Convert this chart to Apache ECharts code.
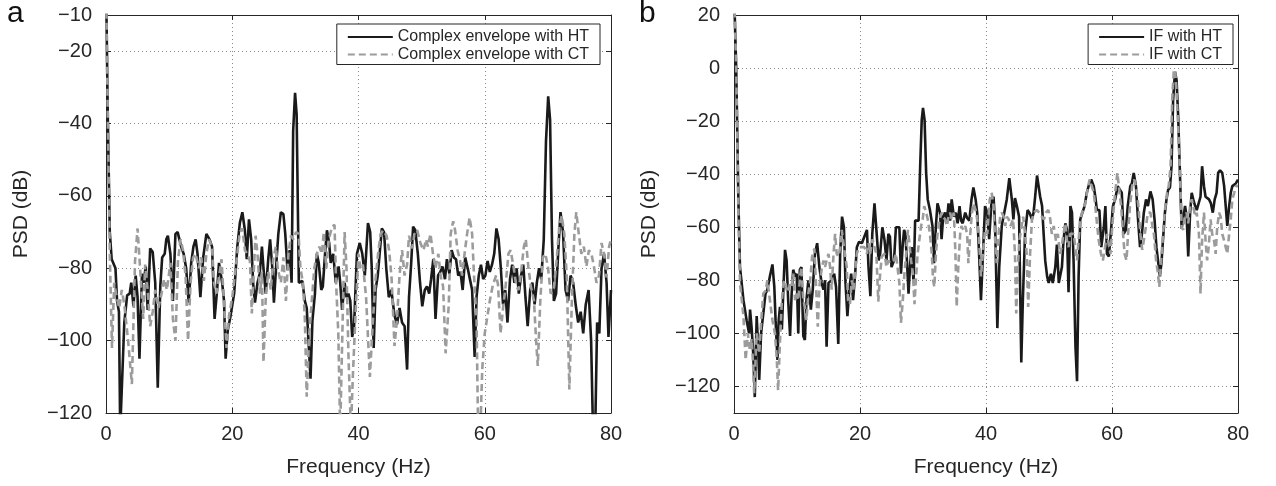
<!DOCTYPE html>
<html><head><meta charset="utf-8">
<script src="https://cdn.jsdelivr.net/npm/echarts@6/dist/echarts.min.js"></script>
<style>html,body{margin:0;padding:0;background:#fff}#c{width:1276px;height:486px}</style>
</head><body><div id="c"></div>
<script>
// ---- tick labels / categories ----
const xTicks = [0, 20, 40, 60, 80];
const yTicksA = [-120, -100, -80, -60, -40, -20, -10];
const yTicksB = [-120, -100, -80, -60, -40, -20, 0, 20];
const legendA = ['Complex envelope with HT', 'Complex envelope with CT'];
const legendB = ['IF with HT', 'IF with CT'];
const panelLetters = ['a', 'b'];

// ---- series values: [frequency Hz, PSD dB] ----
const htA = [[0,0],[0.3,-40],[0.6,-70],[0.9,-77.5],[1.2,-78],[1.5,-80],[1.75,-89],[2.05,-92],[2.25,-125],[2.55,-125],[2.9,-95],[3.35,-87.5],[3.75,-87],[4.0,-84],[4.35,-90.5],[4.7,-82],[5.0,-88],[5.3,-105],[5.7,-81.5],[5.95,-84],[6.3,-79.5],[6.6,-91.5],[7.0,-74.5],[7.4,-75.5],[7.8,-84],[8.2,-113],[8.6,-85],[8.9,-77],[9.3,-76],[9.55,-72],[9.8,-71],[10.2,-76],[10.6,-89],[11.0,-70.5],[11.35,-70],[11.6,-69.5],[11.9,-74],[12.3,-76],[12.7,-80],[13.1,-89.5],[13.5,-78.5],[13.85,-74],[14.2,-72],[14.5,-76],[14.95,-88],[15.4,-77],[15.9,-70.5],[16.4,-72],[16.8,-74],[17.2,-94],[17.6,-86],[17.9,-78.5],[18.15,-78.5],[18.4,-84],[18.7,-89],[18.95,-105],[19.3,-97],[19.7,-93.5],[20.3,-87],[20.8,-74],[21.2,-67.5],[21.6,-64.5],[22.0,-69.5],[22.3,-77.5],[22.65,-66.5],[23.0,-72],[23.3,-84],[23.6,-89.5],[24.0,-84],[24.35,-81.5],[24.7,-74],[24.95,-80],[25.3,-87],[25.7,-77.5],[26.0,-72],[26.35,-80],[26.6,-89.5],[26.95,-79.5],[27.3,-70.5],[27.7,-64.5],[28.1,-65],[28.4,-70.5],[28.75,-80.5],[29.1,-75],[29.4,-84],[29.65,-42],[29.95,-31.5],[30.2,-37.5],[30.55,-84],[30.8,-84],[31.1,-83.5],[31.5,-89],[31.8,-91],[32.4,-110.5],[32.7,-94.5],[33.1,-87],[33.4,-76],[33.7,-78.5],[34.1,-86],[34.35,-85],[34.7,-76],[35.0,-69.5],[35.35,-73],[35.6,-78.5],[36.0,-76],[36.4,-84],[36.85,-79.5],[37.1,-84],[37.4,-91.5],[37.8,-84],[38.1,-88],[38.4,-87],[38.7,-89],[39.0,-99],[39.3,-96],[39.5,-87],[39.75,-76],[40.2,-73],[40.6,-76],[41.0,-82],[41.5,-67.5],[41.85,-70],[42.1,-80],[42.4,-102],[42.7,-86],[43.05,-82],[43.4,-75],[43.7,-69],[44.05,-70],[44.4,-80],[44.8,-88],[45.2,-86],[45.7,-93],[46.1,-95.5],[46.5,-91],[46.9,-95],[47.3,-96],[47.7,-108],[48.0,-88],[48.35,-78.5],[48.65,-68.5],[49.0,-69.5],[49.4,-76],[49.75,-84],[50.1,-90.5],[50.5,-86],[50.85,-85],[51.2,-87],[51.5,-83],[51.85,-77.5],[52.2,-94],[52.6,-82],[52.95,-81],[53.3,-79.5],[53.7,-83],[54.0,-77.5],[54.4,-81.5],[54.75,-75],[55.1,-77],[55.45,-77.5],[55.8,-82],[56.15,-81],[56.5,-86],[56.9,-77],[57.3,-80],[57.65,-83],[58.0,-86],[58.4,-104.5],[58.7,-88],[59.05,-82],[59.4,-79],[59.75,-83],[60.1,-82],[60.45,-78],[60.8,-81],[61.15,-79],[61.5,-76],[61.85,-69],[62.2,-72],[62.55,-80],[62.9,-90],[63.25,-86],[63.6,-95],[64.0,-83],[64.35,-79],[64.7,-84],[65.05,-80],[65.4,-87],[65.75,-82],[66.1,-79],[66.45,-88],[66.8,-96],[67.2,-86],[67.55,-84],[67.9,-90],[68.25,-84],[68.6,-80],[68.95,-83],[69.35,-72],[69.7,-45],[70.05,-32.5],[70.35,-39],[70.65,-72],[70.95,-89],[71.3,-87],[71.65,-75],[72.0,-64.5],[72.4,-70],[72.8,-86],[73.2,-89],[73.6,-82],[74.0,-84],[74.4,-90],[74.8,-95],[75.2,-92],[75.6,-98],[76.0,-90],[76.45,-86],[76.85,-100],[77.15,-125],[77.5,-125],[77.8,-95],[78.15,-98],[78.5,-80],[78.9,-76],[79.3,-84],[79.6,-99],[80,-86]];

const ctA = [[0,0],[0.3,-40],[0.6,-76],[0.95,-102],[1.3,-84],[1.7,-88],[2.1,-91],[2.5,-86],[2.9,-90],[3.5,-100],[4.1,-112],[4.6,-78],[5.0,-69],[5.4,-80],[5.9,-94],[6.2,-79],[6.6,-86],[7.0,-96],[7.4,-92],[7.8,-86],[8.3,-91],[8.8,-87],[9.2,-83],[9.65,-86],[10.2,-78.5],[10.6,-94],[11.0,-100],[11.4,-78],[11.8,-72],[12.2,-75],[12.6,-82],[13.0,-100],[13.4,-84],[13.8,-77],[14.2,-76],[14.7,-80],[15.1,-77],[15.5,-83.5],[15.9,-76],[16.3,-72],[16.8,-74],[17.1,-84],[17.5,-87],[17.9,-82.5],[18.3,-77.5],[18.7,-90],[19.1,-102],[19.5,-93],[20.0,-88],[20.4,-82],[20.8,-76],[21.2,-70],[21.6,-69],[22.0,-75],[22.4,-76],[22.8,-78],[23.1,-92.5],[23.4,-81],[23.7,-71],[24.0,-76],[24.4,-87],[24.7,-81],[24.95,-106],[25.3,-88.5],[25.7,-81],[26.1,-86],[26.5,-77.5],[26.9,-74],[27.2,-80],[27.7,-84],[28.1,-77],[28.5,-89],[28.9,-76],[29.3,-71],[29.7,-72],[30.1,-70],[30.5,-70.5],[30.8,-80],[31.2,-84],[31.5,-94],[31.8,-115.5],[32.2,-98],[32.6,-89],[33.0,-80],[33.4,-76],[33.8,-74],[34.2,-76],[34.5,-70],[34.9,-80],[35.3,-72],[35.8,-68.5],[36.2,-68],[36.45,-84],[36.8,-98],[37.1,-125],[37.4,-125],[37.8,-70],[38.1,-80],[38.4,-103.5],[38.8,-125],[39.1,-110],[39.6,-90],[40.0,-76],[40.3,-80],[40.7,-79],[41.2,-88],[41.8,-110],[42.3,-94],[42.7,-83],[43.1,-76],[43.5,-70.5],[43.9,-69.5],[44.45,-71],[44.85,-75],[45.25,-83],[45.7,-101.5],[46.1,-94],[46.5,-82],[46.9,-75],[47.3,-82],[47.7,-79],[48.0,-71],[48.5,-74.5],[48.9,-70],[49.3,-69.5],[49.8,-73],[50.3,-75],[50.7,-72],[51.0,-74],[51.4,-70.5],[51.8,-76],[52.2,-80],[52.65,-76],[53.0,-82],[53.4,-85],[53.8,-103.5],[54.3,-90],[54.6,-70.5],[55.0,-67],[55.3,-69.5],[55.7,-75],[56.1,-78],[56.4,-82],[56.8,-76],[57.2,-70.5],[57.6,-66],[58.0,-70.5],[58.3,-82],[58.7,-94.5],[58.95,-125],[59.3,-125],[59.6,-108],[60.0,-98],[60.4,-93.5],[60.8,-89],[61.3,-84.5],[61.8,-82],[62.1,-84.5],[62.5,-98],[62.9,-91],[63.3,-85],[63.75,-76],[64.1,-75],[64.6,-80],[65.0,-85],[65.35,-86],[65.7,-82],[66.2,-74],[66.5,-72],[66.9,-79.5],[67.3,-85],[67.8,-89],[68.15,-100.5],[68.4,-107],[68.8,-89],[69.2,-77],[69.6,-76],[70.0,-79.5],[70.45,-87],[70.9,-86],[71.3,-79.5],[71.8,-68.5],[72.2,-65.5],[72.6,-70.5],[73.0,-82.5],[73.4,-113.5],[73.8,-89],[74.2,-70.5],[74.5,-64.5],[74.9,-70.5],[75.3,-76],[75.7,-74],[76.1,-79.5],[76.5,-75],[76.9,-76],[77.3,-79.5],[77.7,-84],[78.1,-82],[78.5,-73],[78.9,-76],[79.3,-82.5],[79.7,-74],[80,-72]];

const htB = [[0,30],[0.35,0],[0.7,-50],[0.95,-75],[1.5,-87.5],[2.0,-95],[2.4,-100],[2.55,-91],[2.8,-98],[3.05,-107.5],[3.3,-124],[3.6,-93.5],[3.85,-106],[4.0,-117.5],[4.3,-100],[4.65,-92.5],[5.0,-85],[5.3,-83.5],[5.7,-78.5],[6.1,-74],[6.4,-82.5],[6.6,-95],[6.9,-110],[7.1,-95],[7.3,-90],[7.6,-98.5],[7.85,-82.5],[8.1,-68.5],[8.35,-72.5],[8.6,-87.5],[8.9,-101],[9.15,-85],[9.4,-76],[9.7,-78.5],[9.95,-77.5],[10.2,-100],[10.45,-76],[10.7,-75],[11.0,-101],[11.25,-102.5],[11.5,-87.5],[11.8,-80],[12.2,-91],[12.5,-83.5],[12.85,-70],[13.2,-66],[13.55,-75],[13.9,-81],[14.2,-83.5],[14.45,-80],[14.7,-105],[15.0,-81],[15.5,-80],[15.9,-77.5],[16.2,-82.5],[16.55,-104],[16.85,-70],[17.15,-56],[17.45,-60],[17.7,-81],[18.0,-93.5],[18.3,-83.5],[18.6,-77.5],[18.9,-87.5],[19.2,-78.5],[19.5,-67.5],[19.85,-65.5],[20.3,-66],[20.7,-63.5],[21.1,-61],[21.35,-75],[21.65,-86],[21.95,-62.5],[22.3,-51],[22.65,-62.5],[22.95,-72.5],[23.2,-70],[23.55,-60],[23.9,-65],[24.2,-72.5],[24.5,-62.5],[24.75,-63.5],[25.0,-75],[25.4,-72.5],[25.7,-60],[26.0,-60],[26.25,-60],[26.5,-77.5],[26.8,-66],[27.0,-61],[27.2,-62.5],[27.45,-72.5],[27.7,-85],[28.0,-72.5],[28.2,-67.5],[28.5,-81],[28.75,-57.5],[29.0,-58],[29.3,-57.5],[29.55,-37],[29.8,-19.5],[30.0,-15],[30.25,-19.5],[30.5,-39.5],[30.75,-49.5],[31.1,-53.5],[31.5,-59.5],[31.75,-73.5],[32.05,-59.5],[32.3,-51],[32.7,-54.5],[32.95,-64.5],[33.2,-56],[33.5,-54.5],[33.8,-57.5],[34.05,-51],[34.3,-57.5],[34.55,-49.5],[34.9,-56],[35.2,-54.5],[35.5,-58.5],[35.8,-52],[36.05,-57.5],[36.3,-58.5],[36.7,-54.5],[37.0,-56.5],[37.35,-57.5],[37.7,-49.5],[38.0,-45],[38.35,-49.5],[38.6,-54.5],[38.9,-70],[39.2,-87.5],[39.5,-87],[39.85,-52],[40.2,-54.5],[40.5,-64.5],[40.9,-49.5],[41.2,-48.5],[41.45,-59.5],[41.8,-98],[42.1,-75],[42.5,-59.5],[42.9,-54.5],[43.3,-49.5],[43.7,-41.5],[44.1,-49.5],[44.35,-57],[44.6,-49],[44.9,-52],[45.25,-56],[45.6,-111],[45.85,-87.5],[46.2,-62.5],[46.6,-53.5],[46.9,-54.5],[47.3,-57],[47.55,-54.5],[47.8,-48.5],[48.1,-40.5],[48.35,-44.5],[48.6,-48.5],[48.9,-52],[49.15,-62.5],[49.4,-72.5],[49.7,-78.5],[49.95,-81],[50.3,-77.5],[50.6,-81],[51.0,-75],[51.25,-66.5],[51.55,-81],[51.8,-81],[52.05,-75],[52.3,-65],[52.6,-58.5],[52.85,-61],[53.1,-84.5],[53.4,-52],[53.65,-54.5],[53.9,-72.5],[54.2,-105],[54.45,-118],[54.7,-78.5],[54.96,-57],[55.3,-54.5],[55.65,-52],[56.0,-47],[56.4,-43.5],[56.7,-42],[57.1,-44.5],[57.35,-48.5],[57.6,-53.5],[58.0,-53.5],[58.3,-67.5],[58.7,-60],[58.95,-52],[59.2,-70],[59.5,-71],[59.8,-62.5],[60.15,-52],[60.5,-49.5],[60.9,-44.5],[61.2,-44],[61.55,-47],[61.85,-62.5],[62.2,-61],[62.5,-52],[62.9,-44.5],[63.15,-43.5],[63.45,-39.5],[63.8,-44.5],[64.1,-56],[64.45,-67.5],[64.75,-62.5],[65.05,-54.5],[65.4,-49.5],[65.7,-52],[66.1,-46.5],[66.45,-49.5],[66.75,-57],[67.05,-67.5],[67.3,-72.5],[67.6,-78.5],[67.85,-73.5],[68.1,-64.5],[68.4,-54.5],[68.65,-49.5],[68.9,-46],[69.2,-45],[69.45,-37],[69.7,-12],[70.0,-1.5],[70.25,-4.5],[70.5,-18],[70.75,-37],[71.05,-60.5],[71.3,-60],[71.6,-52],[71.85,-56],[72.1,-71],[72.4,-54.5],[72.65,-47],[72.9,-49.5],[73.2,-52],[73.45,-53.5],[73.75,-51],[74.05,-48.5],[74.3,-37],[74.6,-44.5],[74.85,-48.5],[75.15,-48.5],[75.4,-49.5],[75.7,-51],[76.0,-54.5],[76.3,-49.5],[76.6,-47],[76.85,-39.5],[77.15,-38.5],[77.5,-39.5],[77.8,-44.5],[78.05,-52],[78.3,-59.5],[78.6,-52],[78.85,-47],[79.1,-44.5],[79.4,-44.5],[79.65,-43.5],[80.0,-42]];

const ctB = [[0,30],[0.35,0],[0.7,-55],[0.95,-81],[1.5,-93.5],[1.85,-110],[2.2,-100],[2.5,-106],[2.8,-102],[3.05,-112.5],[3.2,-122.5],[3.6,-100],[4.0,-107.5],[4.3,-96],[4.65,-85],[5.0,-84],[5.3,-80],[5.7,-87.5],[6.1,-95],[6.5,-100],[6.8,-110],[7.0,-121.5],[7.3,-103],[7.6,-87.5],[7.85,-81],[8.1,-80],[8.35,-83.5],[8.6,-84.5],[8.9,-81],[9.15,-82],[9.4,-77.5],[9.7,-87.5],[9.95,-85],[10.2,-87.5],[10.5,-78.5],[10.7,-75],[11.0,-87.5],[11.25,-90],[11.5,-95],[11.8,-85],[12.1,-80],[12.4,-71],[12.75,-68],[13.0,-81],[13.3,-97.5],[13.55,-82.5],[13.9,-76],[14.2,-72.5],[14.45,-75],[14.7,-72.5],[15.0,-70],[15.25,-75],[15.5,-83.5],[15.8,-70],[16.05,-62.5],[16.3,-70],[16.6,-71],[16.85,-67.5],[17.1,-61],[17.4,-61],[17.6,-70],[17.9,-75],[18.1,-87.5],[18.4,-89],[18.7,-80],[18.95,-83.5],[19.2,-77.5],[19.5,-70],[19.8,-67.5],[20.3,-67.5],[20.7,-67.5],[21.1,-70],[21.35,-66],[21.6,-70],[22.0,-64.5],[22.3,-67.5],[22.6,-70],[22.9,-88],[23.2,-77.5],[23.45,-71],[23.9,-70],[24.2,-75],[24.5,-72.5],[24.8,-73.5],[25.0,-73.5],[25.4,-72.5],[25.7,-70],[26.0,-70],[26.25,-81],[26.5,-96],[26.8,-87.5],[27.05,-77.5],[27.3,-71],[27.6,-61],[27.85,-66],[28.1,-72.5],[28.4,-77.5],[28.65,-89],[28.9,-78.5],[29.15,-70],[29.4,-65],[29.7,-59.5],[29.95,-57],[30.2,-52],[30.5,-54.5],[30.75,-57],[31.1,-62.5],[31.4,-70],[31.6,-80],[31.8,-82.5],[32.05,-70],[32.3,-62.5],[32.7,-56],[33.0,-54.5],[33.2,-56],[33.5,-57],[33.8,-59.5],[34.05,-56],[34.3,-54.5],[34.55,-57],[34.9,-54.5],[35.15,-70],[35.35,-90],[35.6,-75],[35.9,-62.5],[36.1,-59.5],[36.4,-61],[36.7,-59.5],[37.0,-62.5],[37.2,-73.5],[37.5,-62.5],[37.75,-55],[38.0,-51],[38.35,-53.5],[38.6,-57],[38.9,-64.5],[39.2,-78.5],[39.5,-70],[39.85,-61],[40.2,-62.5],[40.6,-49.5],[40.9,-47],[41.2,-52],[41.45,-64.5],[41.7,-73.5],[42.0,-62.5],[42.25,-56],[42.5,-54.5],[42.8,-56],[43.05,-59.5],[43.3,-56],[43.6,-57],[43.9,-59.5],[44.3,-57],[44.6,-70],[44.8,-92.5],[45.05,-75],[45.3,-65],[45.65,-59.5],[45.9,-56],[46.2,-62.5],[46.45,-70],[46.7,-90],[47.0,-70],[47.3,-57],[47.6,-54.5],[48.05,-53.5],[48.45,-54.5],[48.85,-56],[49.2,-57],[49.5,-54.5],[49.9,-53.5],[50.2,-57],[50.45,-62.5],[50.75,-59.5],[51.1,-65],[51.4,-62.5],[51.75,-70],[52.0,-67.5],[52.3,-62.5],[52.6,-58.5],[52.85,-65],[53.1,-67.5],[53.35,-62.5],[53.65,-62.5],[53.9,-62.5],[54.2,-67.5],[54.45,-72.5],[54.7,-65],[54.96,-57],[55.25,-54.5],[55.5,-53.5],[55.8,-50.5],[56.1,-46],[56.45,-42],[56.8,-44.5],[57.1,-47],[57.35,-52],[57.65,-59.5],[57.9,-65],[58.25,-70],[58.55,-72.5],[58.9,-67.5],[59.2,-62.5],[59.45,-62.5],[59.75,-70],[60.0,-61],[60.3,-52],[60.55,-46],[60.85,-39.5],[61.2,-47],[61.45,-52],[61.75,-62.5],[62.0,-70],[62.3,-72.5],[62.55,-62.5],[62.85,-52],[63.2,-44.5],[63.55,-42],[63.9,-46],[64.2,-52],[64.5,-62.5],[64.8,-68.5],[65.05,-65],[65.4,-59.5],[65.7,-54.5],[66.1,-54.5],[66.4,-59.5],[66.65,-62.5],[67.0,-72.5],[67.3,-77.5],[67.5,-82.5],[67.8,-72.5],[68.1,-62.5],[68.4,-53.5],[68.75,-47],[69.0,-44.5],[69.3,-37],[69.55,-12],[69.8,-1.5],[70.0,-0.5],[70.2,-6.5],[70.5,-22],[70.8,-39.5],[71.05,-60],[71.3,-61],[71.55,-56],[71.85,-54.5],[72.1,-58.5],[72.4,-52],[72.65,-49.5],[72.9,-52],[73.2,-56],[73.45,-54.5],[73.8,-62.5],[74.05,-85],[74.3,-65],[74.6,-54.5],[74.85,-65],[75.1,-72.5],[75.35,-67.5],[75.65,-57],[75.9,-62.5],[76.2,-65],[76.45,-70],[76.7,-60],[77.0,-54.5],[77.25,-56],[77.5,-62.5],[77.8,-65],[78.05,-67.5],[78.3,-70],[78.6,-62.5],[78.85,-57],[79.1,-49.5],[79.4,-47],[79.65,-44.5],[80.0,-44.5]];

// ---- styling ----
const FONT = '"Liberation Sans", Arial, Helvetica, sans-serif';
const TXT = '#262626';
const HT_COLOR = '#1a1a1a';
const CT_COLOR = '#9c9c9c';
const fmtMinus = v => String(v).replace('-', '\u2212');

const grids = [
  { left: 106, top: 15, width: 505, height: 398 },
  { left: 734, top: 15, width: 504, height: 398 }
];

const gridLine = { show: true, lineStyle: { color: '#8a8a8a', width: 1, type: [1, 3] } };
const axisLine = { show: true, onZero: false, lineStyle: { color: TXT, width: 1 } };

const xAxes = [], yAxes = [];
[0, 1].forEach(g => {
  xAxes.push({
    type: 'value', gridIndex: g, position: 'bottom', min: xTicks[0], max: xTicks[xTicks.length - 1],
    interval: xTicks[1] - xTicks[0],
    axisLine, axisTick: { show: true, inside: true, length: 5, lineStyle: { color: TXT } },
    axisLabel: { margin: 11, fontSize: 20, color: TXT, fontFamily: FONT },
    splitLine: gridLine,
    name: 'Frequency (Hz)', nameLocation: 'middle', nameGap: 44,
    nameTextStyle: { fontSize: 21, color: TXT, fontFamily: FONT }
  });
  xAxes.push({
    type: 'value', gridIndex: g, position: 'top', min: xTicks[0], max: xTicks[xTicks.length - 1],
    interval: xTicks[1] - xTicks[0],
    axisLine, axisTick: { show: true, inside: true, length: 5, lineStyle: { color: TXT } },
    axisLabel: { show: false }, splitLine: { show: false }
  });
  const yt = g === 0 ? yTicksA : yTicksB;
  const ymin = g === 0 ? -120 : -130;
  const ymax = g === 0 ? -10 : 20;
  yAxes.push({
    type: 'value', gridIndex: g, position: 'left', min: ymin, max: ymax,
    axisLine,
    axisTick: { show: true, inside: true, length: 5, customValues: yt, lineStyle: { color: TXT } },
    axisLabel: { margin: 14, fontSize: 20, color: TXT, fontFamily: FONT, customValues: yt, formatter: fmtMinus },
    splitLine: gridLine,
    name: 'PSD (dB)', nameLocation: 'middle', nameGap: 74,
    nameTextStyle: { fontSize: 21, color: TXT, fontFamily: FONT }
  });
  yAxes.push({
    type: 'value', gridIndex: g, position: 'right', min: ymin, max: ymax,
    axisLine,
    axisTick: { show: true, inside: true, length: 5, customValues: yt, lineStyle: { color: TXT } },
    axisLabel: { show: false, customValues: yt }, splitLine: { show: false }
  });
});

function mkSeries(name, data, g, isCT) {
  return {
    type: 'line', name, data, xAxisIndex: g * 2, yAxisIndex: g * 2,
    showSymbol: false, symbol: 'none', clip: true, z: isCT ? 3 : 2,
    lineStyle: isCT ? { color: CT_COLOR, width: 2.6, type: [7, 4] } : { color: HT_COLOR, width: 2.6 },
    itemStyle: { color: isCT ? CT_COLOR : HT_COLOR },
    emphasis: { disabled: true }
  };
}

function mkLegend(names, right) {
  return {
    data: names, orient: 'vertical', right, top: 24,
    itemWidth: 45, itemHeight: 14, itemGap: 1.5,
    padding: [5, 11, 2, 10],
    borderColor: TXT, borderWidth: 1, backgroundColor: '#fff', borderRadius: 0,
    itemStyle: { opacity: 0 },
    textStyle: { fontSize: 16, color: TXT, fontFamily: FONT, lineHeight: 16 },
    selectedMode: false
  };
}

const chart = echarts.init(document.getElementById('c'), null, { renderer: 'canvas' });
chart.setOption({
  animation: false,
  backgroundColor: '#fff',
  grid: grids,
  xAxis: xAxes,
  yAxis: yAxes,
  legend: [mkLegend(legendA, 1276 - 600), mkLegend(legendB, 1276 - 1233)],
  graphic: [
    { type: 'text', left: 7, top: -1, style: { text: panelLetters[0], font: '30px ' + FONT, fill: '#111' } },
    { type: 'text', left: 639, top: -1, style: { text: panelLetters[1], font: '30px ' + FONT, fill: '#111' } }
  ],
  series: [
    mkSeries(legendA[0], htA, 0, false),
    mkSeries(legendA[1], ctA, 0, true),
    mkSeries(legendB[0], htB, 1, false),
    mkSeries(legendB[1], ctB, 1, true)
  ]
});
</script>
</body></html>
